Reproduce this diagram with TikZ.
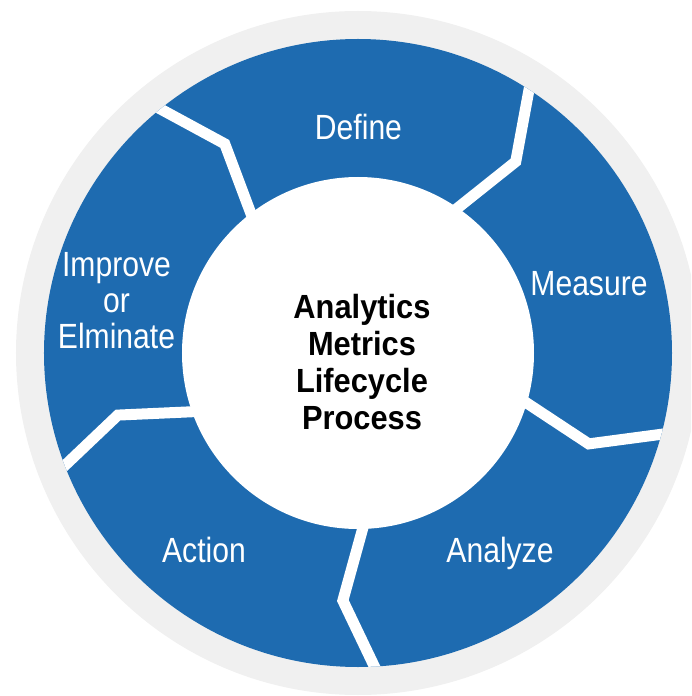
\documentclass[tikz,border=0pt]{standalone}
\usepackage{fontspec}
\newfontfamily\lblfont{Liberation Sans}[FakeStretch=0.86]
\newfontfamily\hubfont{Liberation Sans}[FakeStretch=0.92]
\definecolor{ringblue}{RGB}{30,107,176}
\definecolor{rimgray}{RGB}{240,240,240}
\tikzset{
  lbl/.style={text=white,inner sep=0pt,anchor=base,font=\lblfont\fontsize{35}{36}\selectfont},
  gap/.style={draw=white,line width=11pt,shorten <=-12pt,shorten >=-20pt},
  hub/.style={inner sep=0pt,align=center,font=\hubfont\bfseries\fontsize{33.5}{37}\selectfont},
}

\begin{document}
\begin{tikzpicture}[x=1pt,y=1pt]
\useasboundingbox (-358,-343) rectangle (333,353);
\clip (-358,-343) rectangle (333,353);
% rim, ring and hub
\fill[rimgray] (0,0) circle (342);
\fill[ringblue] (0,0) circle (314);
\fill[white] (0,0) circle (176);
% five bent cuts through the ring
\begin{scope}
\clip (0,0) circle (314);
\foreach \i in {0,...,4}{%
 \pgfmathsetmacro{\a}{55.5+72*\i}
 \coordinate (in\i) at ({\a}:176);
 \coordinate (bd\i) at ({\a-5}:248);
 \coordinate (out\i) at ({\a+1.5}:314);
 \draw[gap] (in\i)--(bd\i)--(out\i);}
\end{scope}
\node[lbl] (define) at (0.5,213) {Define};
\node[lbl] (measure) at (231,57) {Measure};
\node[lbl] (analyze) at (142,-209) {Analyze};
\node[lbl] (action) at (-154,-209) {Action};
\node[lbl,anchor=center,align=center] (improve) at (-241.5,52) {Improve\\or\\Elminate};
\node[hub] (hub) at (4,-9) {Analytics\\Metrics\\Lifecycle\\Process};
\end{tikzpicture}
\end{document}
